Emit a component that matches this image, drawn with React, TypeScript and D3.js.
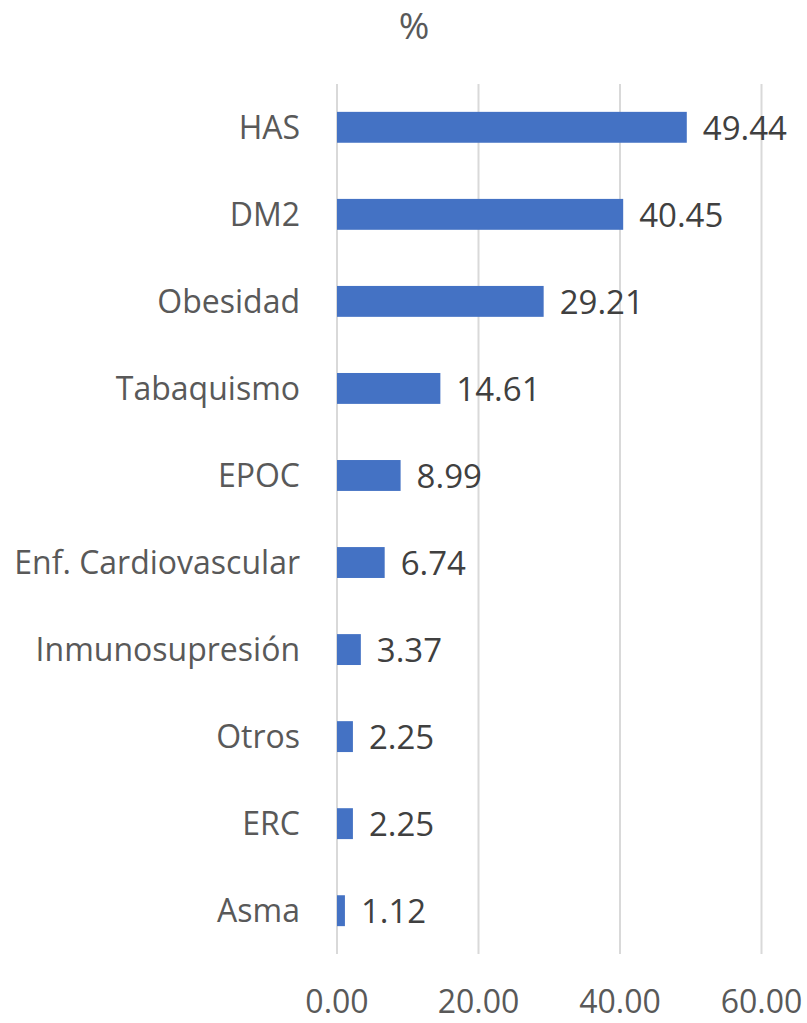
import React from 'react'
import * as d3 from 'd3'

const categories = ['HAS', 'DM2', 'Obesidad', 'Tabaquismo', 'EPOC', 'Enf. Cardiovascular', 'Inmunosupresión', 'Otros', 'ERC', 'Asma']
const values = [49.44, 40.45, 29.21, 14.61, 8.99, 6.74, 3.37, 2.25, 2.25, 1.12]
const ticks = [0, 20, 40, 60]

const W = 807
const H = 1023
const font = '"Open Sans", "Noto Sans", sans-serif'

export default function App() {
  const x = d3.scaleLinear().domain([0, 60]).range([337, 761.5])
  const y = d3.scaleBand().domain(categories).range([84, 954]).paddingInner(0.645).paddingOuter(0.32)

  return (
    <svg width={W} height={H} style={{ position: 'absolute', left: 0, top: 0, background: '#fff' }}>
      <text x={414} y={39} textAnchor="middle" fontFamily={font} fontSize={37} fill="#595959">%</text>
      {ticks.map(t => (
        <g key={t}>
          <line x1={x(t)} x2={x(t)} y1={84} y2={954} stroke="#d9d9d9" strokeWidth={2} />
          <text x={x(t)} y={1013} textAnchor="middle" fontFamily={font} fontSize={32} fill="#595959">
            {d3.format('.2f')(t)}
          </text>
        </g>
      ))}
      {categories.map((c, i) => {
        const yc = y(c)! + y.bandwidth() / 2
        return (
          <g key={c}>
            <rect x={x(0)} y={y(c)} width={x(values[i]) - x(0)} height={y.bandwidth()} fill="#4472c4" />
            <text x={300} y={yc} dy="0.35em" textAnchor="end" fontFamily={font} fontSize={32} fill="#595959">{c}</text>
            <text x={x(values[i]) + 16} y={yc} dy="0.38em" fontFamily={font} fontSize={33} fill="#404040">
              {d3.format('.2f')(values[i])}
            </text>
          </g>
        )
      })}
    </svg>
  )
}
